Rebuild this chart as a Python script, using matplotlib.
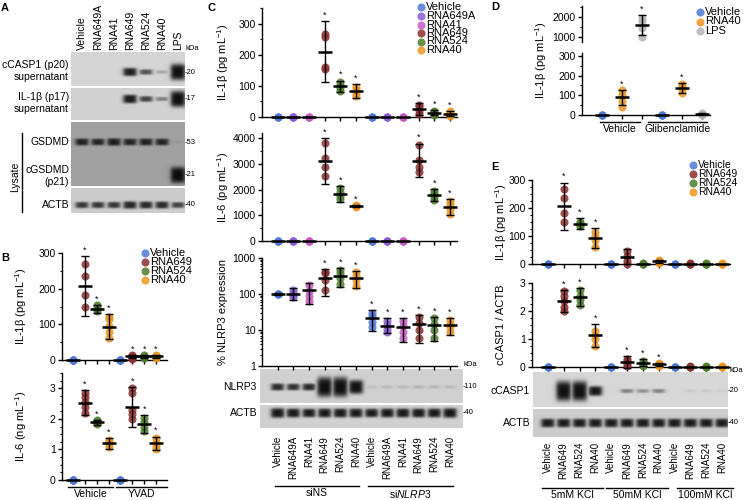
import numpy as np
import matplotlib
matplotlib.use('Agg')
import matplotlib.pyplot as plt
from matplotlib.ticker import AutoMinorLocator, FixedLocator, NullFormatter
from matplotlib.transforms import blended_transform_factory

plt.rcParams['font.family'] = ['Liberation Sans', 'DejaVu Sans']
plt.rcParams['mathtext.fontset'] = 'custom'
plt.rcParams['mathtext.rm'] = 'Liberation Sans'
plt.rcParams['mathtext.it'] = 'Liberation Sans:italic'

# ---------------- data ----------------
COL = {'Vehicle': '#4f78d8', 'RNA649A': '#8b5cd6', 'RNA41': '#c65bc2',
       'RNA649': '#8c2f2f', 'RNA524': '#4f7d2c', 'RNA40': '#eb9420', 'LPS': '#b3b3b3'}

# A - western blot band signals per lane
a_lanes = ['Vehicle', 'RNA649A', 'RNA41', 'RNA649', 'RNA524', 'RNA40', 'LPS']
a_ccasp1 = [0, 0, 0, 1.2, 0.5, 0.12, 4.0]
a_il1b = [0, 0, 0, 1.3, 0.6, 0.25, 4.0]
a_gsdmd = [0.9, 0.8, 1.0, 0.85, 0.9, 0.85, 0.03]
a_cgsdmd = [0, 0, 0, 0, 0, 0, 4.0]
a_actb = [0.7, 0.7, 0.7, 1.0, 0.9, 0.9, 0.6]

# B
b_series = ['Vehicle', 'RNA649', 'RNA524', 'RNA40']
b_groups = ['Vehicle', 'YVAD']
b_il1b_pts = [[0, 0, 0, 0], [150, 183, 235, 268], [136, 142, 148, 153], [61, 78, 96, 115, 120],
              [0, 0, 0, 0], [4, 8, 11, 14], [6, 9, 11, 13], [6, 9, 11, 14]]
b_il1b_mean = [0, 207, 144, 93, 0, 10, 10, 10]
b_il1b_sd = [0, 84, 11, 35, 0, 4, 3, 4]
b_il1b_star = [0, 1, 1, 1, 0, 1, 1, 1]
b_il6_pts = [[0, 0, 0, 0], [2.2, 2.4, 2.55, 2.7, 2.85], [1.82, 1.87, 1.92, 1.96], [1.08, 1.18, 1.25, 1.32],
             [0, 0, 0, 0], [2.0, 2.15, 2.3, 2.85, 3.0], [1.6, 1.75, 1.9, 2.02], [1.02, 1.12, 1.25, 1.38]]
b_il6_mean = [0, 2.53, 1.89, 1.2, 0, 2.38, 1.83, 1.2]
b_il6_sd = [0, 0.42, 0.08, 0.18, 0, 0.66, 0.28, 0.22]
b_il6_star = [0, 1, 1, 1, 0, 1, 1, 1]

# C
c_series = ['Vehicle', 'RNA649A', 'RNA41', 'RNA649', 'RNA524', 'RNA40']
c_groups = ['siNS', r'si$\it{NLRP3}$']
c_il1b_pts = [[0, 0, 0], [0, 0, 0], [0, 0, 0], [155, 160, 258, 265], [84, 92, 102, 112], [68, 78, 88, 96],
              [0, 0, 0], [0, 0, 0], [0, 0, 0], [10, 20, 34, 40], [7, 11, 16, 20], [4, 9, 14, 19]]
c_il1b_mean = [0, 0, 0, 210, 98, 83, 0, 0, 0, 25, 14, 11]
c_il1b_sd = [0, 0, 0, 98, 19, 22, 0, 0, 0, 20, 8, 9]
c_il1b_star = [0, 0, 0, 1, 1, 1, 0, 0, 0, 1, 1, 1]
c_il6_pts = [[0, 0, 0], [0, 0, 0], [0, 0, 0], [2530, 2880, 3230, 3810], [1620, 1760, 1900, 2050], [1340, 1370, 1400],
             [0, 0, 0], [0, 0, 0], [0, 0, 0], [2690, 2880, 3150, 3740], [1600, 1720, 1850, 1960], [1060, 1250, 1420, 1560]]
c_il6_mean = [0, 0, 0, 3110, 1830, 1370, 0, 0, 0, 3130, 1790, 1330]
c_il6_sd = [0, 0, 0, 880, 300, 40, 0, 0, 0, 660, 240, 300]
c_il6_star = [0, 0, 0, 1, 1, 1, 0, 0, 0, 1, 1, 1]
c_nlrp3_pts = [[98, 100, 102], [82, 95, 110, 128], [62, 88, 125, 175], [129, 250, 380, 415], [190, 280, 380, 470], [170, 240, 320, 410],
               [12, 17, 24, 30], [9, 11, 14, 18], [6, 9, 13, 18], [6, 10, 16, 23], [6, 10, 15, 21], [9, 12, 15, 19]]
c_nlrp3_mean = [100, 103, 128, 283, 322, 283, 22, 13, 12.3, 14.7, 13.8, 14]
c_nlrp3_lo = [96, 66, 53, 86, 156, 144, 9.6, 8.3, 4.7, 4.4, 5, 7.3]
c_nlrp3_hi = [104, 150, 206, 490, 537, 444, 36, 22, 21, 26, 23, 22]
c_nlrp3_star = [0, 0, 0, 1, 1, 1, 1, 1, 1, 1, 1, 1]
c_blot_nlrp3 = [0.9, 0.8, 0.9, 6, 6, 3, 0.05, 0.06, 0.06, 0.08, 0.07, 0.06]
c_blot_actb = [1.6, 1.4, 1.3, 1.4, 1.4, 1.4, 1.3, 1.4, 1.4, 1.4, 1.4, 1.6]

# D
d_series = ['Vehicle', 'RNA40', 'LPS']
d_groups = ['Vehicle', 'Glibenclamide']
d_pts = [[0, 0, 0], [42, 70, 100, 127], [1000, 1430, 1780, 1950], [0, 0, 0], [112, 130, 145, 160], [2, 5, 8]]
d_mean = [0, 90, 1600, 0, 136, 5]
d_sd = [0, 37, 515, 0, 25, 3]
d_star = [0, 1, 1, 0, 1, 0]

# E
e_series = ['Vehicle', 'RNA649', 'RNA524', 'RNA40']
e_groups = ['5mM KCl', '50mM KCl', '100mM KCl']
e_il1b_pts = [[0, 0, 0], [150, 183, 235, 268], [135, 140, 146, 150], [61, 85, 100, 115],
              [0, 0, 0], [0, 12, 30, 45], [0, 1, 2], [4, 8, 12, 16],
              [0, 0, 0], [0, 1, 3], [0, 1, 2], [0, 1, 2]]
e_il1b_mean = [0, 207, 144, 93, 0, 26, 1, 10, 0, 1, 1, 1]
e_il1b_sd = [0, 84, 20, 36, 0, 26, 0, 6, 0, 0, 0, 0]
e_il1b_star = [0, 1, 1, 1, 0, 0, 0, 0, 0, 0, 0, 0]
e_ratio_pts = [[0, 0, 0], [2.0, 2.15, 2.35, 2.55, 2.7], [2.2, 2.4, 2.55, 2.75], [0.75, 1.0, 1.15, 1.3],
               [0, 0, 0], [0.05, 0.12, 0.22, 0.3], [0.05, 0.1, 0.18, 0.22], [0.05, 0.08, 0.12, 0.15],
               [0, 0, 0], [0, 0.01, 0.02], [0, 0.01, 0.02], [0, 0.01, 0.02]]
e_ratio_mean = [0, 2.36, 2.5, 1.13, 0, 0.18, 0.15, 0.1, 0, 0.01, 0.01, 0.01]
e_ratio_sd = [0, 0.39, 0.33, 0.4, 0, 0.2, 0.12, 0.05, 0, 0, 0, 0]
e_ratio_star = [0, 1, 1, 1, 0, 1, 1, 1, 0, 0, 0, 0]
e_blot_ccasp1 = [0, 6, 6, 1.6, 0, 0.25, 0.2, 0.25, 0, 0.03, 0.03, 0.02]
e_blot_actb = [1.3] * 12

# ---------------- figure ----------------
W, H = 749, 500
fig = plt.figure(figsize=(W / 100, H / 100), dpi=100)
ov = fig.add_axes([0, 0, 1, 1], zorder=0)
ov.axis('off')
FS = 7.5
LFS = 8


def px_axes(x0, y0, x1, y1, xlim, ylim, log=False):
    ax = fig.add_axes([x0 / W, 1 - y1 / H, (x1 - x0) / W, (y1 - y0) / H], zorder=2)
    ax.patch.set_alpha(0)
    for s in ['top', 'right']:
        ax.spines[s].set_visible(False)
    for s in ['left', 'bottom']:
        ax.spines[s].set_linewidth(1)
    if log:
        ax.set_yscale('log')
    ax.set_xlim(*xlim)
    ax.set_ylim(*ylim)
    ax.set_xticks(np.arange(1, int(xlim[1]) + 1))
    ax.tick_params(axis='x', direction='out', length=3, width=1, labelbottom=False)
    ax.tick_params(axis='y', which='major', direction='out', length=3, width=1, labelsize=FS, pad=1.5)
    ax.tick_params(axis='y', which='minor', direction='out', length=1.8, width=0.8)
    ax.box = (x0, y0, x1, y1)
    return ax


def dots(ax, names, pts, mean, sd=None, lo=None, hi=None, star=None):
    ylo, yhi = ax.get_ylim()
    tol = 0.05 * (yhi - ylo)
    for i, nm in enumerate(names):
        x = i + 1
        p = [v for v in pts[i] if ylo - tol <= v <= yhi]
        if p:
            ax.scatter([x] * len(p), p, s=34, color=COL[nm], alpha=0.85, lw=0, zorder=3, clip_on=False)
        m = mean[i]
        if not (ylo - tol <= m <= yhi):
            continue
        if sd is not None:
            yerr = [[sd[i]], [sd[i]]]
            top = m + sd[i]
        else:
            yerr = [[m - lo[i]], [hi[i] - m]]
            top = hi[i]
        if yerr[1][0] > 0:
            ax.errorbar(x, m, yerr=yerr, fmt='none', ecolor='k', elinewidth=1,
                        capsize=2.8, capthick=1, zorder=4, clip_on=False)
        ax.plot(x, m, marker='_', ms=10, mew=1.8, color='k', zorder=5, clip_on=False)
        if star is not None and star[i]:
            ax.annotate('*', (x, top), xytext=(0, 1), textcoords='offset points',
                        ha='center', va='bottom', fontsize=6.5)


def group_line(ax, a, b, ypx, label):
    tr = blended_transform_factory(ax.transData, ov.transData)
    ov.plot([a, b], [ypx, ypx], color='k', lw=1, transform=tr, clip_on=False)
    ov.text((a + b) / 2, ypx + 2, label, transform=tr, ha='center', va='top', fontsize=FS)


def lane_labels(ax, names, ytop):
    tr = blended_transform_factory(ax.transData, ov.transData)
    for i, nm in enumerate(names):
        ov.text(i + 1, ytop, nm, transform=tr, rotation=90, ha='center', va='top', fontsize=7)


def lane_px(ax, n):
    x0, y0, x1, y1 = ax.box
    a, b = ax.get_xlim()
    return [x0 + (k - a) / (b - a) * (x1 - x0) for k in range(1, n + 1)]


def blot(x0, y0, x1, y1, bg, lanes, rows):
    h = int(round(y1 - y0)) * 2
    w = int(round(x1 - x0)) * 2
    yy, xx = np.mgrid[0:h, 0:w] + 0.5
    xx = x0 + xx / 2
    yy = y0 + yy / 2
    sp = lanes[1] - lanes[0]
    dark = np.zeros((h, w))
    for yc, sigs in rows:
        for xc, s in zip(lanes, sigs):
            if s <= 0:
                continue
            hh = 1.6 + 3.5 * np.log1p(s) ** 1.3
            hw = sp * 0.36 * (1 + 0.12 * np.log1p(s))
            fx = 1 / (1 + np.exp((np.abs(xx - xc) - hw) / 1.2))
            fy = np.exp(-((yy - yc) / hh) ** 4)
            dark = np.maximum(dark, (1 - np.exp(-2.2 * s)) * fx * fy)
    img = bg * (1 - 0.93 * dark)
    ov.imshow(img, cmap='gray', vmin=0, vmax=1, extent=(x0, x1, y1, y0),
              interpolation='bilinear', aspect='auto', zorder=1)


def legend(names, xdot, ys, fs=LFS):
    for nm, y in zip(names, ys):
        ov.scatter([xdot], [y], s=34, color=COL[nm], alpha=0.85, lw=0, zorder=3)
        ov.text(xdot + 5, y, nm, ha='left', va='center', fontsize=fs)


def ylab(x, y, txt):
    ov.text(x, y, txt, rotation=90, ha='center', va='center', fontsize=LFS)


IL1B = 'IL-1β (pg mL$^{-1}$)'

# ---------------- A ----------------
a_x = list(np.linspace(82, 178, 7))
blot(71, 52, 185, 86, 0.83, a_x, [(72, a_ccasp1)])
blot(71, 88, 185, 120, 0.82, a_x, [(99, a_il1b)])
blot(71, 122, 185, 186, 0.63, a_x, [(142, a_gsdmd), (175, a_cgsdmd)])
blot(71, 188, 185, 213, 0.80, a_x, [(205, a_actb)])
for x, nm in zip(a_x, a_lanes):
    ov.text(x, 50, nm, rotation=90, ha='center', va='bottom', fontsize=7.5)
ov.text(186, 48, 'kDa', fontsize=5.5, va='center')
for y, k in [(72, '-20'), (99, '-17'), (142, '-53'), (175, '-21'), (205, '-40')]:
    ov.text(185, y, k, fontsize=5.5, va='center')
ov.text(69, 71, 'cCASP1 (p20)\nsupernatant', ha='right', va='center', fontsize=FS, linespacing=1.3)
ov.text(69, 103, 'IL-1β (p17)\nsupernatant', ha='right', va='center', fontsize=FS, linespacing=1.3)
ov.text(69, 142, 'GSDMD', ha='right', va='center', fontsize=FS)
ov.text(69, 176, 'cGSDMD\n(p21)', ha='right', va='center', fontsize=FS, linespacing=1.3)
ov.text(69, 205, 'ACTB', ha='right', va='center', fontsize=FS)
ov.plot([22, 22], [133, 212], color='k', lw=1)
ov.text(15, 177, 'Lysate', rotation=90, ha='center', va='center', fontsize=FS)

# ---------------- B ----------------
axb1 = px_axes(62, 253, 167, 360, (0.08, 8.92), (0, 300))
axb1.set_yticks([0, 100, 200, 300])
axb1.yaxis.set_minor_locator(AutoMinorLocator(2))
dots(axb1, b_series * 2, b_il1b_pts, b_il1b_mean, sd=b_il1b_sd, star=b_il1b_star)
axb2 = px_axes(62, 373, 167, 480, (0.08, 8.92), (0, 3.5))
axb2.set_yticks([0, 1, 2, 3])
axb2.yaxis.set_minor_locator(AutoMinorLocator(4))
dots(axb2, b_series * 2, b_il6_pts, b_il6_mean, sd=b_il6_sd, star=b_il6_star)
group_line(axb2, 0.55, 4.4, 487, b_groups[0])
group_line(axb2, 4.65, 8.92, 487, b_groups[1])
ylab(21, 306, IL1B)
ylab(21, 426, 'IL-6 (ng mL$^{-1}$)')
legend(b_series, 145, [253, 262, 271, 280])

# ---------------- C ----------------
c_names = c_series * 2
axc1 = px_axes(262, 8, 457, 117, (0, 12.45), (0, 350))
axc1.set_yticks([0, 100, 200, 300])
axc1.yaxis.set_minor_locator(AutoMinorLocator(2))
dots(axc1, c_names, c_il1b_pts, c_il1b_mean, sd=c_il1b_sd, star=c_il1b_star)
axc2 = px_axes(262, 133, 457, 241, (0, 12.45), (0, 4200))
axc2.set_yticks([0, 1000, 2000, 3000, 4000])
axc2.yaxis.set_minor_locator(FixedLocator([500, 1500, 2500, 3500]))
dots(axc2, c_names, c_il6_pts, c_il6_mean, sd=c_il6_sd, star=c_il6_star)
axc3 = px_axes(262, 258, 457, 366, (0, 12.45), (1, 1000), log=True)
axc3.set_yticks([1, 10, 100, 1000])
axc3.set_yticklabels(['1', '10', '100', '1000'])
axc3.yaxis.set_minor_formatter(NullFormatter())
dots(axc3, c_names, c_nlrp3_pts, c_nlrp3_mean, lo=c_nlrp3_lo, hi=c_nlrp3_hi, star=c_nlrp3_star)
c_x = lane_px(axc3, 12)
blot(260, 369, 463, 403, 0.82, c_x, [(387, c_blot_nlrp3)])
blot(260, 405, 463, 428, 0.82, c_x, [(413, c_blot_actb)])
ov.text(464, 365, 'kDa', fontsize=5.5, va='center')
ov.text(463, 387, '-110', fontsize=5.5, va='center')
ov.text(463, 413, '-40', fontsize=5.5, va='center')
ov.text(257, 387, 'NLRP3', ha='right', va='center', fontsize=FS)
ov.text(257, 413, 'ACTB', ha='right', va='center', fontsize=FS)
lane_labels(axc3, c_names, 436)
group_line(axc3, 0.8, 6.2, 486, c_groups[0])
group_line(axc3, 6.75, 12.2, 486, c_groups[1])
ylab(223, 62, IL1B)
ylab(223, 187, 'IL-6 (pg mL$^{-1}$)')
ylab(223, 312, '% NLRP3 expression')
legend(c_series, 421, [7, 16, 24.5, 33, 41.5, 50])

# ---------------- D ----------------
axd1 = px_axes(582, 6, 710, 42, (0, 6.4), (750, 2550))
axd1.spines['bottom'].set_visible(False)
axd1.tick_params(axis='x', bottom=False)
axd1.set_yticks([1000, 2000])
axd1.yaxis.set_minor_locator(FixedLocator([1500, 2500]))
dots(axd1, d_series * 2, d_pts, d_mean, sd=d_sd, star=d_star)
axd2 = px_axes(582, 53, 710, 115, (0, 6.4), (0, 315))
axd2.set_yticks([0, 100, 200, 300])
axd2.yaxis.set_minor_locator(AutoMinorLocator(2))
dots(axd2, d_series * 2, d_pts, d_mean, sd=d_sd, star=d_star)
group_line(axd2, 0.9, 2.9, 122, d_groups[0])
group_line(axd2, 3.3, 6.25, 122, d_groups[1])
ylab(541, 60, IL1B)
legend(d_series, 700, [12, 21.5, 31])

# ---------------- E ----------------
e_names = e_series * 3
axe1 = px_axes(532, 180, 730, 264, (0, 12.5), (0, 300))
axe1.set_yticks([0, 100, 200, 300])
axe1.yaxis.set_minor_locator(AutoMinorLocator(4))
dots(axe1, e_names, e_il1b_pts, e_il1b_mean, sd=e_il1b_sd, star=e_il1b_star)
axe2 = px_axes(532, 283, 730, 367, (0, 12.5), (0, 3))
axe2.set_yticks([0, 1, 2, 3])
axe2.yaxis.set_minor_locator(AutoMinorLocator(4))
dots(axe2, e_names, e_ratio_pts, e_ratio_mean, sd=e_ratio_sd, star=e_ratio_star)
e_x = lane_px(axe2, 12)
blot(533, 372, 728, 407, 0.84, e_x, [(391, e_blot_ccasp1)])
blot(533, 409, 728, 437, 0.80, e_x, [(423, e_blot_actb)])
ov.text(729, 371, 'kDa', fontsize=5.5, va='center')
ov.text(728, 391, '-20', fontsize=5.5, va='center')
ov.text(728, 423, '-40', fontsize=5.5, va='center')
ov.text(530, 391, 'cCASP1', ha='right', va='center', fontsize=FS)
ov.text(530, 423, 'ACTB', ha='right', va='center', fontsize=FS)
lane_labels(axe2, e_names, 442)
group_line(axe2, 0.63, 4.48, 488, e_groups[0])
group_line(axe2, 4.67, 8.59, 488, e_groups[1])
group_line(axe2, 9.15, 12.7, 488, e_groups[2])
ylab(501, 222, IL1B)
ylab(501, 325, 'cCASP1 / ACTB')
legend(e_series, 693, [165, 174, 183, 192], fs=7.5)

# panel letters
for x, y, t in [(5, 8, 'A'), (5, 258, 'B'), (211, 8, 'C'), (495, 7, 'D'), (495, 167, 'E')]:
    ov.text(x, y, t, fontsize=8, fontweight='bold', ha='center', va='center')

ov.set_xlim(0, W)
ov.set_ylim(H, 0)
fig.savefig('out.png', dpi=100)
